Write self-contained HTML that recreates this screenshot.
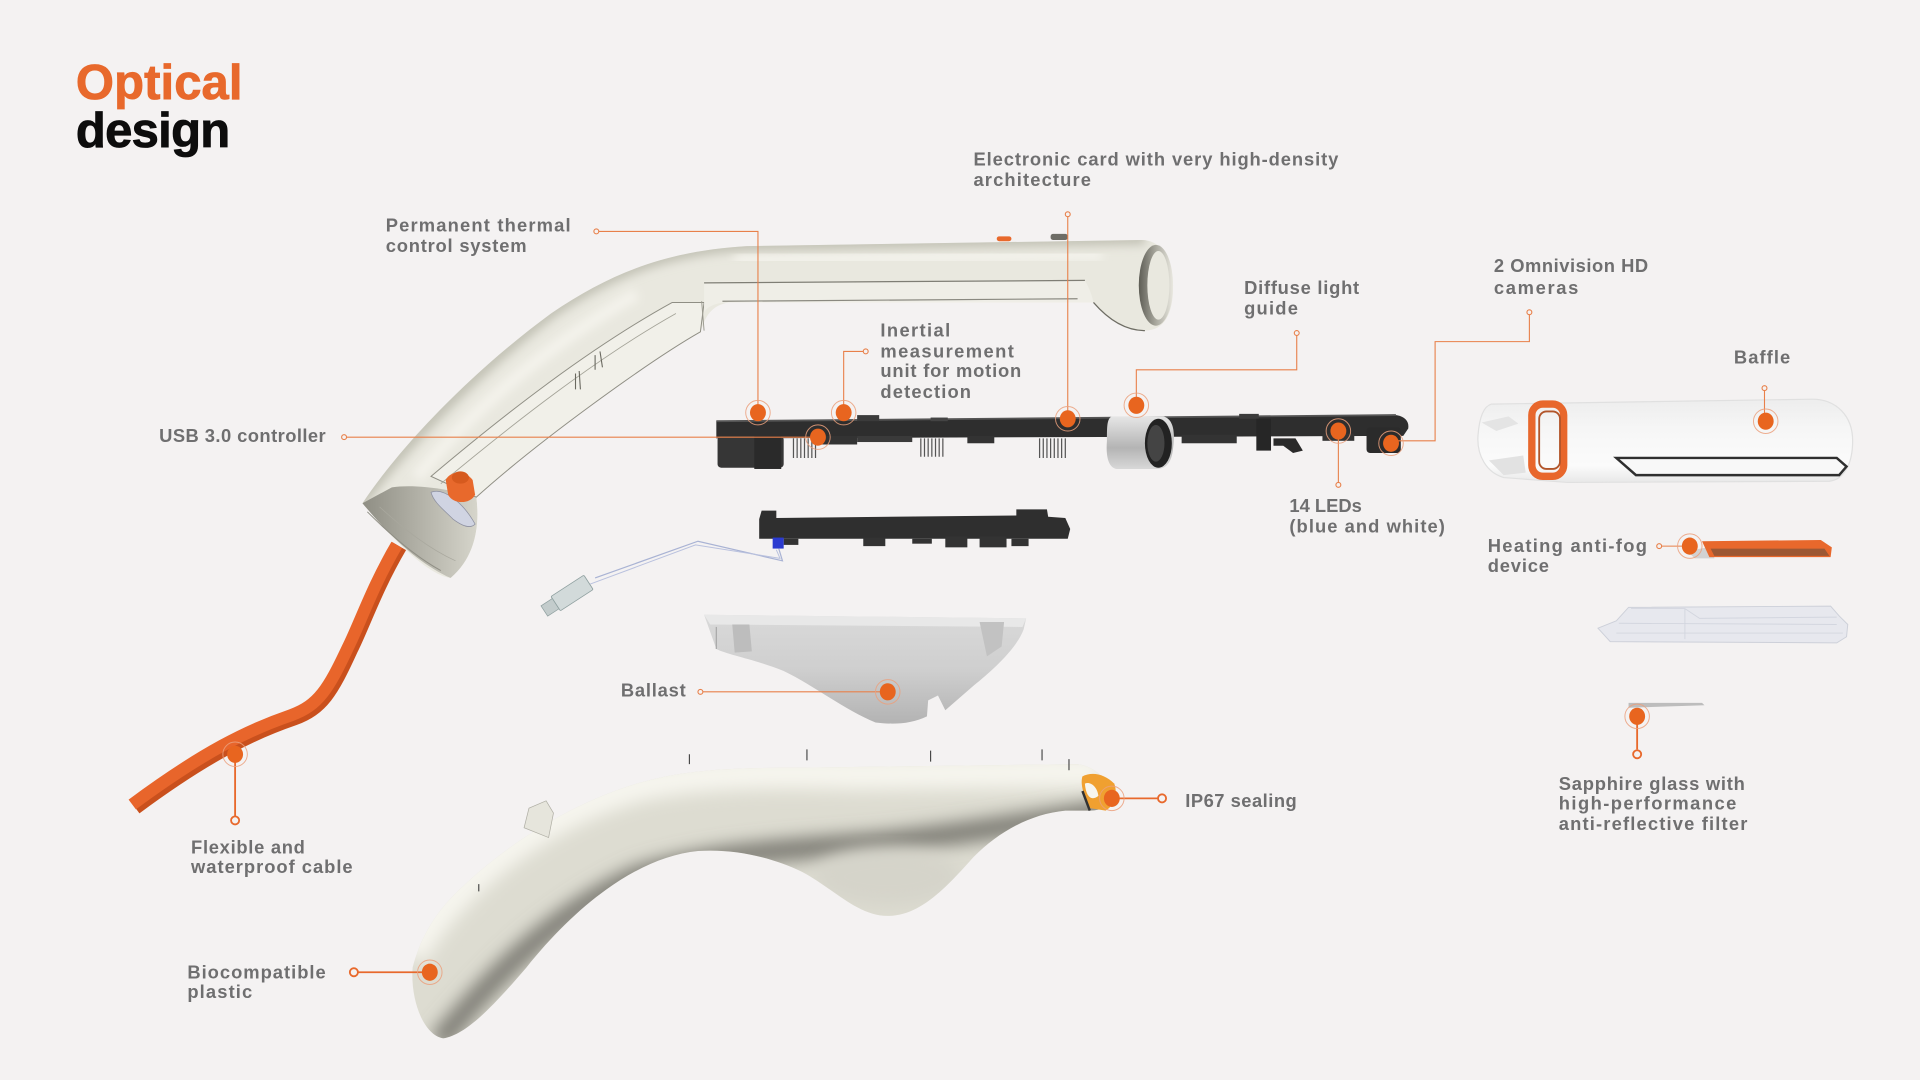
<!DOCTYPE html>
<html>
<head>
<meta charset="utf-8">
<style>
  html,body{margin:0;padding:0;background:#f4f2f2;}
  svg{display:block;}
  .lb{font-family:"Liberation Sans",Arial,sans-serif;font-weight:700;font-size:15px;fill:#6f6f70;}
  .ttl{font-family:"Liberation Sans",Arial,sans-serif;font-weight:700;font-size:40px;}
</style>
</head>
<body>
<svg width="1920" height="1080" viewBox="0 0 1568 882" preserveAspectRatio="none" xmlns="http://www.w3.org/2000/svg">
  <defs>
    <filter id="b4" x="-20%" y="-20%" width="140%" height="140%"><feGaussianBlur stdDeviation="4"/></filter>
    <filter id="b7" x="-20%" y="-20%" width="140%" height="140%"><feGaussianBlur stdDeviation="7"/></filter>
    <filter id="b2"><feGaussianBlur stdDeviation="1.5"/></filter>
    <clipPath id="cu"><path id="upperP" d="M296,411 C330,360 390,300 450,256 C500,222 545,205 610,201 L932,196 C950,196 958,214 958,234 C958,256 951,270 935,270 C920,270 906,262 893,247 L595,247 C583,249 578,256 575,263 L572,271 C530,295 440,360 389,406 C392,430 388,455 368,472 C350,470 320,440 296,411 Z"/></clipPath>
    <clipPath id="cl"><path d="M337,790 C345,760 360,740 380,722 C420,685 470,655 520,640 C560,628 600,627 650,627 L880,624 C895,626 905,637 910,650 C908,658 900,662 890,662 L870,662 C840,665 815,680 795,700 C770,728 750,748 725,748 C700,748 680,725 655,712 C630,700 600,693 570,695 C520,700 470,740 430,790 C400,825 380,845 362,848 C345,845 335,815 337,790 Z"/></clipPath>
    <linearGradient id="ballG" x1="0" y1="0" x2="0" y2="1">
      <stop offset="0" stop-color="#d9d9d9"/>
      <stop offset="0.5" stop-color="#cfcfcf"/>
      <stop offset="1" stop-color="#b3b3b3"/>
    </linearGradient>
    <linearGradient id="ringG" x1="0" y1="0" x2="1" y2="0">
      <stop offset="0" stop-color="#5e5d55"/>
      <stop offset="0.5" stop-color="#a9a89e"/>
      <stop offset="1" stop-color="#e9e8e0"/>
    </linearGradient>
    <linearGradient id="guideG" x1="0" y1="0" x2="0" y2="1">
      <stop offset="0" stop-color="#e6e6e6"/>
      <stop offset="0.6" stop-color="#b4b4b4"/>
      <stop offset="1" stop-color="#d8d8d8"/>
    </linearGradient>
    <linearGradient id="baffG" x1="0" y1="0" x2="0" y2="1">
      <stop offset="0" stop-color="#ededed"/>
      <stop offset="0.35" stop-color="#f6f6f6"/>
      <stop offset="0.8" stop-color="#fbfbfb"/>
      <stop offset="1" stop-color="#e8e8e8"/>
    </linearGradient>
    <linearGradient id="capG" x1="0" y1="0" x2="1" y2="0">
      <stop offset="0" stop-color="#8f8e84"/>
      <stop offset="1" stop-color="#d6d5cb"/>
    </linearGradient>
  </defs>

  <rect x="0" y="0" width="1568" height="882" fill="#f4f2f2"/>

  <!-- Title -->
  <text class="ttl" x="62" y="81" fill="#e8692c" stroke="#e8692c" stroke-width="0.7" textLength="136" lengthAdjust="spacing">Optical</text>
  <text class="ttl" x="62" y="120" fill="#0d0d0d" stroke="#0d0d0d" stroke-width="0.7" textLength="126" lengthAdjust="spacing">design</text>

  <!-- Cable -->
  <path d="M326,446 C306,480 296,510 286,530 C270,565 262,578 240,586 C205,598 168,616 110,659" fill="none" stroke="#c9501d" stroke-width="13"/>
  <path d="M324,445 C304,479 294,509 284,529 C268,563 260,576 238,584 C203,596 166,614 108,657" fill="none" stroke="#e8652b" stroke-width="10"/>

  <!-- Upper shell -->
  <use href="#upperP" fill="#e9e8df"/>
  <g clip-path="url(#cu)">
    <path d="M288,418 C325,365 390,300 450,254 C500,220 545,203 610,199 L935,194" fill="none" stroke="#c3c2b6" stroke-width="12" filter="url(#b4)"/>
    <path d="M600,212 L900,208" fill="none" stroke="#f5f4ee" stroke-width="8" filter="url(#b4)"/>
    <path d="M340,390 C390,330 450,280 520,240" fill="none" stroke="#f4f3ec" stroke-width="10" filter="url(#b4)"/>
    <path d="M296,411 C320,440 345,462 368,472 C388,455 392,430 389,406 C370,400 340,395 320,398 Z" fill="url(#capG)"/>
    <path d="M600,240 L890,240" stroke="#c9c8bc" stroke-width="8" fill="none" filter="url(#b4)"/>
  </g>
  <!-- cavity on diagonal -->
  <path d="M352,389 C410,340 480,285 549,247 L575,247 L572,271 C530,295 440,360 389,406 Z" fill="#f1f0e9" stroke="#8f8e84" stroke-width="0.8"/>
  <path d="M360,395 C420,345 488,292 552,256" fill="none" stroke="#a4a398" stroke-width="0.7"/>
  <path d="M470,305 L470,318 M473,303 L474,318 M486,290 L486,302 M490,287 L492,300" stroke="#6a6960" stroke-width="0.9" fill="none"/>
  <!-- channel horizontal -->
  <path d="M575,230 L886,229 C890,236 892,242 893,247 L595,247 C585,247 578,250 575,255 Z" fill="#efeee7"/>
  <path d="M575,231 L886,229" stroke="#7f7e75" stroke-width="1" fill="none"/>
  <path d="M590,246 L880,244" stroke="#8a8980" stroke-width="1" fill="none"/>
  <path d="M573,246 L575,270" stroke="#9c9b91" stroke-width="0.8" fill="none"/>
  <!-- ring opening -->
  <ellipse cx="944" cy="233" rx="14" ry="33" fill="url(#ringG)"/>
  <ellipse cx="946" cy="233" rx="9" ry="28" fill="#e9e8df"/>
  <path d="M893,247 C906,262 920,270 935,270" fill="none" stroke="#6e6d64" stroke-width="1"/>
  <!-- top marks -->
  <rect x="814" y="193" width="12" height="4" rx="2" fill="#e8692c"/>
  <rect x="858" y="191" width="14" height="5" rx="2" fill="#6e6d66"/>
  <!-- end cap connector -->
  <path d="M352,402 C362,398 378,410 388,428 C384,432 378,430 370,424 C362,416 354,410 352,402 Z" fill="#d0d4e2" stroke="#8d90a0" stroke-width="0.6"/>
  <path d="M364,392 C368,384 380,384 386,392 L388,404 C384,412 370,412 366,404 Z" fill="#e8692c"/>
  <ellipse cx="376" cy="390" rx="7" ry="5" fill="#d65a1e"/>
  <path d="M300,418 C320,438 340,455 360,466" fill="none" stroke="#8f8e84" stroke-width="0.8"/>
  <path d="M310,414 C330,432 350,448 372,458" fill="none" stroke="#a9a89e" stroke-width="0.6"/>

  <!-- Main PCB -->
  <path d="M585,344 L1140,339 C1148,340 1151,345 1150,350 L1146,356 L585,358 Z" fill="#2e2e2e"/>
  <path d="M585,344 L1140,339" stroke="#555" stroke-width="1.5"/>
  <rect x="700" y="339" width="18" height="5" fill="#3b3b3b"/>
  <rect x="760" y="341" width="14" height="3" fill="#444"/>
  <rect x="1012" y="338" width="16" height="4" fill="#3b3b3b"/>
  <rect x="586" y="356" width="54" height="26" rx="3" fill="#363636"/>
  <rect x="616" y="356" width="22" height="27" fill="#2a2a2a"/>
  <g stroke="#555" stroke-width="1">
    <path d="M648,358 v16 M651,358 v16 M654,358 v16 M657,358 v16 M660,358 v16 M663,358 v16 M666,358 v16"/>
    <path d="M752,358 v15 M755,358 v15 M758,358 v15 M761,358 v15 M764,358 v15 M767,358 v15 M770,358 v15"/>
    <path d="M849,358 v16 M852,358 v16 M855,358 v16 M858,358 v16 M861,358 v16 M864,358 v16 M867,358 v16 M870,358 v16"/>
  </g>
  <rect x="670" y="356" width="30" height="7" fill="#333"/>
  <rect x="700" y="356" width="45" height="5" fill="#3a3a3a"/>
  <rect x="790" y="356" width="22" height="6" fill="#333"/>
  <rect x="965" y="355" width="45" height="7" fill="#333"/>
  <rect x="1026" y="342" width="12" height="26" fill="#262626"/>
  <path d="M1040,358 L1058,358 L1064,368 L1056,370 L1048,364 L1040,364 Z" fill="#2a2a2a"/>
  <rect x="1080" y="354" width="26" height="6" fill="#333"/>
  <rect x="1116" y="349" width="28" height="21" rx="3" fill="#2b2b2b"/>
  <!-- light guide ring -->
  <path d="M908,340 L950,340 C958,342 960,352 958,366 C957,378 952,383 945,383 L912,383 C905,382 903,372 904,360 C904,348 904,342 908,340 Z" fill="url(#guideG)"/>
  <ellipse cx="946" cy="362" rx="11" ry="20" fill="#222"/>
  <ellipse cx="944" cy="362" rx="7" ry="15" fill="#444"/>

  <!-- Second PCB -->
  <path d="M620,424 L622,417 L634,417 L634,423 L830,421 L830,416 L855,416 L856,422 L870,423 L874,432 L872,440 L620,440 Z" fill="#2f2f2f"/>
  <rect x="640" y="440" width="12" height="5" fill="#333"/>
  <rect x="705" y="439" width="18" height="7" fill="#333"/>
  <rect x="745" y="440" width="16" height="4" fill="#333"/>
  <rect x="772" y="438" width="18" height="9" fill="#333"/>
  <rect x="800" y="438" width="22" height="9" fill="#333"/>
  <rect x="826" y="440" width="14" height="6" fill="#333"/>
  <rect x="631" y="439" width="9" height="9" fill="#2b3bd0"/>
  <!-- wires -->
  <path d="M636,448 L639,458 L570,442 L486,472" fill="none" stroke="#a9b3d4" stroke-width="1"/>
  <path d="M634,449 L637,456 L568,445 L482,477" fill="none" stroke="#b9c1de" stroke-width="0.8"/>
  <!-- vibration motor -->
  <g transform="rotate(-33 463 487)">
    <rect x="452" y="480" width="32" height="14" rx="1" fill="#d2dada" stroke="#8fa0a0" stroke-width="0.7"/>
    <rect x="441" y="482" width="11" height="10" fill="#c3cccc" stroke="#8fa0a0" stroke-width="0.6"/>
  </g>

  <!-- Ballast -->
  <path d="M575,502 L838,505 L836,514 C830,530 810,548 795,560 L772,580 L766,568 L758,572 L757,585 C745,591 730,592 715,590 C690,580 665,560 640,548 C615,538 595,535 585,530 Z" fill="url(#ballG)"/>
  <path d="M575,502 L838,505 L835,512 L580,510 Z" fill="#e8e8e8"/>
  <path d="M598,510 L612,510 L614,532 L600,533 Z" fill="#bdbdbd"/>
  <path d="M800,508 L820,508 L818,528 L806,536 Z" fill="#c2c2c2"/>
  <path d="M585,512 L585,530" stroke="#a8a8a8" stroke-width="1"/>

  <!-- Lower shell -->
  <g>
    <path d="M337,790 C345,760 360,740 380,722 C420,685 470,655 520,640 C560,628 600,627 650,627 L880,624 C895,626 905,637 910,650 C908,658 900,662 890,662 L870,662 C840,665 815,680 795,700 C770,728 750,748 725,748 C700,748 680,725 655,712 C630,700 600,693 570,695 C520,700 470,740 430,790 C400,825 380,845 362,848 C345,845 335,815 337,790 Z" fill="#dddcd1"/>
    <g clip-path="url(#cl)">
      <path d="M335,780 C370,720 440,665 520,642 C570,630 640,630 700,632 L900,630" fill="none" stroke="#f6f5ee" stroke-width="26" filter="url(#b7)"/>
      <path d="M358,852 C400,800 450,748 520,716 C580,696 650,694 720,688 C780,682 840,672 905,662" fill="none" stroke="#7f7e76" stroke-width="18" filter="url(#b7)"/>
      <ellipse cx="725" cy="716" rx="60" ry="24" fill="#d5d4ca" filter="url(#b7)"/>
    </g>
    <path d="M428,676 L432,660 L446,654 L452,664 L448,684 Z" fill="#e6e5dc" stroke="#b0afa5" stroke-width="0.6"/>
    <g stroke="#3e3e3e" stroke-width="0.9">
      <path d="M563,616 v8 M659,612 v9 M760,613 v9 M851,612 v9 M873,620 v9 M391,722 v6"/>
    </g>
    <!-- IP67 end -->
    <path d="M884,634 C892,630 902,632 910,640 C913,648 910,658 903,662 L890,660 C885,650 882,640 884,634 Z" fill="#f0a030"/>
    <path d="M886,640 C890,638 896,642 897,650 C892,654 887,652 886,640 Z" fill="#f7f5ee"/>
    <path d="M884,646 L890,662" stroke="#333" stroke-width="2"/>
  </g>

  <!-- Baffle -->
  <path d="M1218,330 L1480,326 C1500,326 1513,340 1513,360 C1513,380 1505,392 1494,393 L1280,394 L1228,390 C1214,386 1206,372 1207,356 C1208,342 1211,332 1218,330 Z" fill="url(#baffG)" stroke="#e0e0e0" stroke-width="1"/>
  <path d="M1210,345 L1232,340 L1240,346 L1222,352 Z" fill="#e4e4e4"/>
  <path d="M1216,376 L1244,372 L1246,386 L1228,388 Z" fill="#e2e2e2"/>
  <rect x="1251" y="330" width="26" height="59" rx="9" fill="none" stroke="#e8672c" stroke-width="6"/>
  <rect x="1257" y="336" width="17" height="47" rx="6" fill="none" stroke="#b2552a" stroke-width="1.5"/>
  <path d="M1320,374 L1500,374 L1508,381 L1502,388 L1336,388 Z" fill="#f8f8f8" stroke="#2f2f2f" stroke-width="2"/>

  <!-- Heating plate -->
  <path d="M1378,450 L1400,446 L1400,456 L1384,456 Z" fill="#d2d2d2"/>
  <path d="M1390,442 L1487,441 L1496,447 L1495,455 L1396,455 Z" fill="#e8682c"/>
  <path d="M1397,448 L1490,448 L1494,454 L1400,454 Z" fill="#9c5834"/>

  <!-- Glass block -->
  <path d="M1305,513 L1320,507 L1330,496 L1495,495 L1502,503 L1509,510 L1508,520 L1500,525 L1315,524 Z" fill="#e7e8ee" stroke="#cdd0d9" stroke-width="0.8"/>
  <path d="M1332,497 L1376,497 L1388,505 L1500,504 M1322,509 L1500,510 M1376,497 L1376,522 M1320,517 L1505,517" stroke="#d3d6df" stroke-width="0.8" fill="none"/>

  <!-- Sapphire -->
  <path d="M1330,574 L1390,574 L1392,576 L1330,578 Z" fill="#bdbdbd"/>

  <!-- Connectors -->
  <g fill="none" stroke="#e8804a" stroke-width="0.9">
    <path d="M489,189 L619,189 L619,331"/>
    <path d="M872,177 L872,336"/>
    <path d="M705,287 L689,287 L689,331"/>
    <path d="M1059,274 L1059,302 L928,302 L928,325"/>
    <path d="M1249,257 L1249,279 L1172,279 L1172,360 L1142,360"/>
    <path d="M1093,358 L1093,394"/>
    <path d="M283,357 L662,357"/>
    <path d="M1441,319 L1441,338"/>
    <path d="M1357,446 L1374,446"/>
    <path d="M574,565 L719,565"/>
  </g>
  <g fill="none" stroke="#e8692c" stroke-width="1.5">
    <path d="M1337,590 L1337,612"/>
    <path d="M912,652 L946,652"/>
    <path d="M192,620 L192,667"/>
    <path d="M292,794 L346,794"/>
  </g>
  <!-- small end circles -->
  <g fill="#f4f2f2" stroke="#e8804a" stroke-width="0.9">
    <circle cx="487" cy="189" r="2"/>
    <circle cx="872" cy="175" r="2"/>
    <circle cx="707" cy="287" r="2"/>
    <circle cx="1059" cy="272" r="2"/>
    <circle cx="1249" cy="255" r="2"/>
    <circle cx="1093" cy="396" r="2"/>
    <circle cx="281" cy="357" r="2"/>
    <circle cx="1441" cy="317" r="2"/>
    <circle cx="1355" cy="446" r="2"/>
    <circle cx="572" cy="565" r="2"/>
  </g>
  <g fill="#f4f2f2" stroke="#e8692c" stroke-width="1.5">
    <circle cx="1337" cy="616" r="3.3"/>
    <circle cx="949" cy="652" r="3.3"/>
    <circle cx="192" cy="670" r="3.3"/>
    <circle cx="289" cy="794" r="3.3"/>
  </g>
  <!-- dots -->
  <g>
    <g fill="none" stroke="#eba07c" stroke-width="0.8" opacity="0.85">
      <circle cx="619" cy="337" r="10"/>
      <circle cx="872" cy="342" r="10"/>
      <circle cx="689" cy="337" r="10"/>
      <circle cx="928" cy="331" r="10"/>
      <circle cx="1136" cy="362" r="10"/>
      <circle cx="1093" cy="352" r="10"/>
      <circle cx="668" cy="357" r="10"/>
      <circle cx="1442" cy="344" r="10"/>
      <circle cx="1380" cy="446" r="10"/>
      <circle cx="1337" cy="585" r="10"/>
      <circle cx="725" cy="565" r="10"/>
      <circle cx="908" cy="652" r="10"/>
      <circle cx="192" cy="616" r="10"/>
      <circle cx="351" cy="794" r="10"/>
    </g>
    <g fill="#e8651f">
      <ellipse cx="619" cy="337" rx="6.5" ry="7"/>
      <ellipse cx="872" cy="342" rx="6.5" ry="7"/>
      <ellipse cx="689" cy="337" rx="6.5" ry="7"/>
      <ellipse cx="928" cy="331" rx="6.5" ry="7"/>
      <ellipse cx="1136" cy="362" rx="6.5" ry="7"/>
      <ellipse cx="1093" cy="352" rx="6.5" ry="7"/>
      <ellipse cx="668" cy="357" rx="6.5" ry="7"/>
      <ellipse cx="1442" cy="344" rx="6.5" ry="7"/>
      <ellipse cx="1380" cy="446" rx="6.5" ry="7"/>
      <ellipse cx="1337" cy="585" rx="6.5" ry="7"/>
      <ellipse cx="725" cy="565" rx="6.5" ry="7"/>
      <ellipse cx="908" cy="652" rx="6.5" ry="7"/>
      <ellipse cx="192" cy="616" rx="6.5" ry="7"/>
      <ellipse cx="351" cy="794" rx="6.5" ry="7"/>
    </g>
  </g>

  <!-- Labels -->
  <text class="lb" x="315" y="189" textLength="151" lengthAdjust="spacing">Permanent thermal</text>
  <text class="lb" x="315" y="206" textLength="115" lengthAdjust="spacing">control system</text>

  <text class="lb" x="795" y="135" textLength="298" lengthAdjust="spacing">Electronic card with very high-density</text>
  <text class="lb" x="795" y="152" textLength="96" lengthAdjust="spacing">architecture</text>

  <text class="lb" x="719" y="275" textLength="57" lengthAdjust="spacing">Inertial</text>
  <text class="lb" x="719" y="292" textLength="109" lengthAdjust="spacing">measurement</text>
  <text class="lb" x="719" y="308" textLength="115" lengthAdjust="spacing">unit for motion</text>
  <text class="lb" x="719" y="325" textLength="74" lengthAdjust="spacing">detection</text>

  <text class="lb" x="1016" y="240" textLength="94" lengthAdjust="spacing">Diffuse light</text>
  <text class="lb" x="1016" y="257" textLength="44" lengthAdjust="spacing">guide</text>

  <text class="lb" x="1220" y="222" textLength="126" lengthAdjust="spacing">2 Omnivision HD</text>
  <text class="lb" x="1220" y="240" textLength="69" lengthAdjust="spacing">cameras</text>

  <text class="lb" x="1416" y="297" textLength="46" lengthAdjust="spacing">Baffle</text>

  <text class="lb" x="130" y="361" textLength="136" lengthAdjust="spacing">USB 3.0 controller</text>

  <text class="lb" x="1053" y="418">14 LEDs</text>
  <text class="lb" x="1053" y="435" textLength="127" lengthAdjust="spacing">(blue and white)</text>

  <text class="lb" x="1215" y="451" textLength="130" lengthAdjust="spacing">Heating anti-fog</text>
  <text class="lb" x="1215" y="467" textLength="50" lengthAdjust="spacing">device</text>

  <text class="lb" x="507" y="569" textLength="53" lengthAdjust="spacing">Ballast</text>

  <text class="lb" x="968" y="659" textLength="91" lengthAdjust="spacing">IP67 sealing</text>

  <text class="lb" x="156" y="697" textLength="93" lengthAdjust="spacing">Flexible and</text>
  <text class="lb" x="156" y="713" textLength="132" lengthAdjust="spacing">waterproof cable</text>

  <text class="lb" x="153" y="799" textLength="113" lengthAdjust="spacing">Biocompatible</text>
  <text class="lb" x="153" y="815" textLength="53" lengthAdjust="spacing">plastic</text>

  <text class="lb" x="1273" y="645" textLength="152" lengthAdjust="spacing">Sapphire glass with</text>
  <text class="lb" x="1273" y="661" textLength="145" lengthAdjust="spacing">high-performance</text>
  <text class="lb" x="1273" y="678" textLength="154" lengthAdjust="spacing">anti-reflective filter</text>
</svg>
</body>
</html>
